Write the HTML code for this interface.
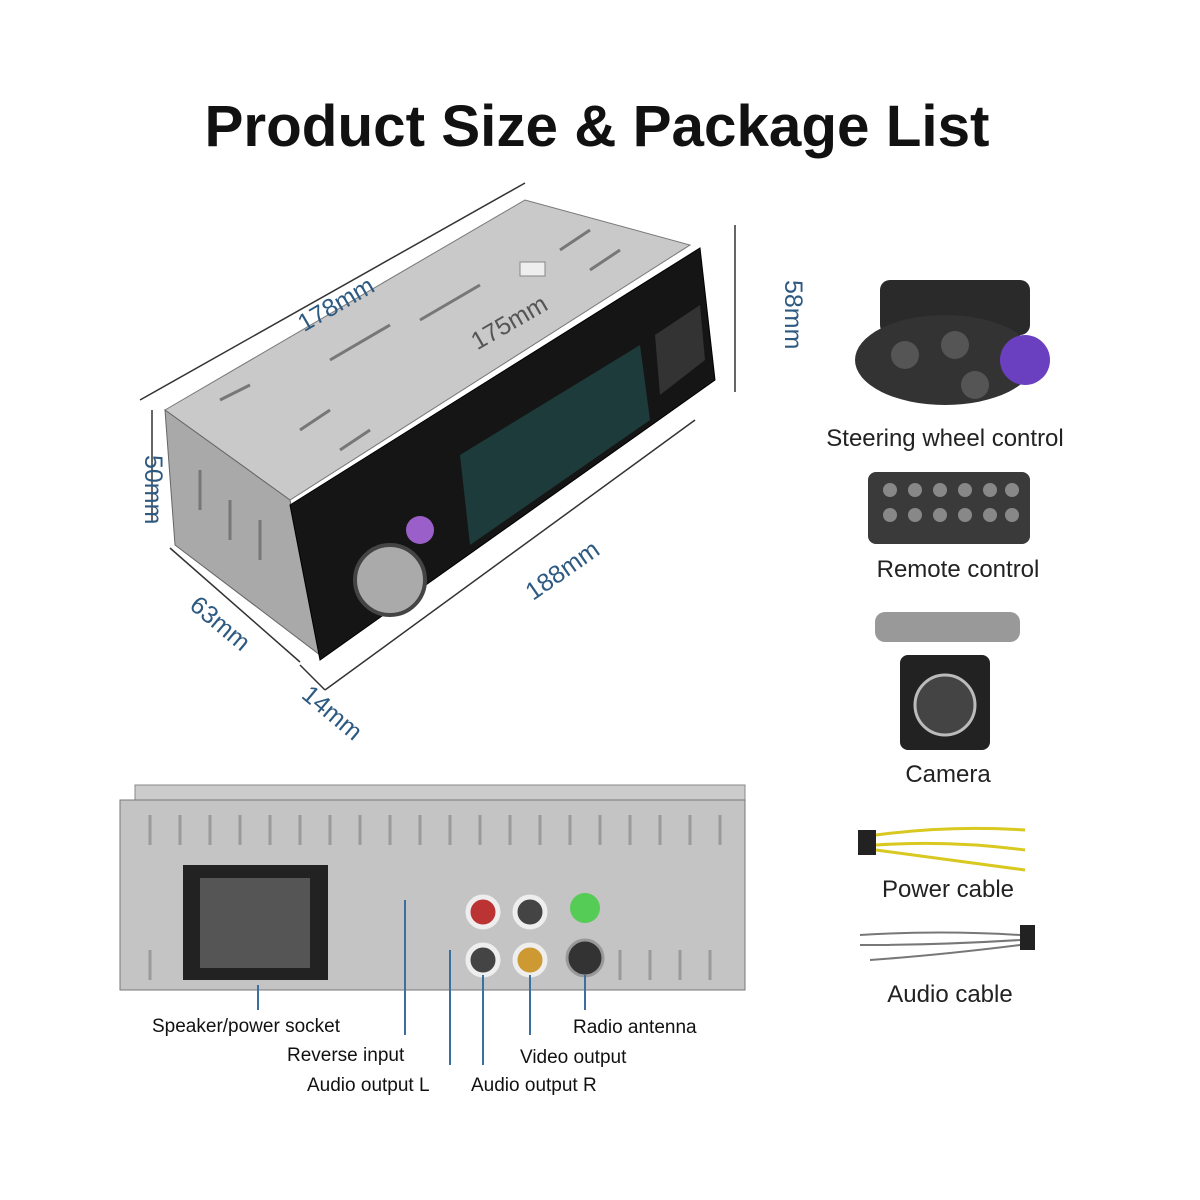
<!DOCTYPE html>
<html><head><meta charset="utf-8"><style>
body{margin:0;width:1200px;height:1200px;background:#fff;overflow:hidden;font-family:"Liberation Sans",sans-serif}
svg{position:absolute;left:0;top:0}
</style></head><body>
<svg width="1200" height="1200" viewBox="0 0 1200 1200">
<text x="597" y="146" text-anchor="middle" font-family="Liberation Sans" font-weight="bold" font-size="58" fill="#111" textLength="785" lengthAdjust="spacingAndGlyphs">Product Size &amp; Package List</text>

<!-- radio body -->
<polygon points="165,410 525,200 690,245 290,500" fill="#c9c9c9" stroke="#777"/>
<polygon points="165,410 290,500 320,655 175,545" fill="#a9a9a9" stroke="#666"/>
<g stroke="#777" fill="none" stroke-width="3">
<path d="M560,250 l30,-20 M590,270 l30,-20 M300,430 l30,-20 M340,450 l30,-20 M220,400 l30,-15 M330,360 l60,-35 M420,320 l60,-35"/>
<path d="M200,470 v40 M230,500 v40 M260,520 v40"/>
</g>
<polygon points="290,505 700,248 715,380 320,660" fill="#151515" stroke="#000"/>
<polygon points="460,455 640,345 650,420 470,545" fill="#1d3b3a"/>
<polygon points="655,335 700,305 705,360 660,395" fill="#333"/>
<circle cx="390" cy="580" r="35" fill="#aaa" stroke="#444" stroke-width="4"/>
<circle cx="420" cy="530" r="14" fill="#9b5fc9"/>
<rect x="520" y="262" width="25" height="14" fill="#eee" stroke="#888"/>

<!-- dimension lines -->
<g stroke="#333" stroke-width="1.5" fill="none">
<line x1="140" y1="400" x2="525" y2="183"/>
<line x1="735" y1="225" x2="735" y2="392"/>
<line x1="152" y1="410" x2="152" y2="522"/>
<line x1="325" y1="690" x2="695" y2="420"/>
<line x1="170" y1="548" x2="300" y2="662"/>
<line x1="300" y1="665" x2="325" y2="690"/>
</g>
<g font-family="Liberation Sans" font-size="25" fill="#2e5a82">
<text x="290" y="320" transform="rotate(-30 320 300)">178mm</text>
<text x="750" y="265" transform="rotate(90 760 290)">58mm</text>
<text x="100" y="440" transform="rotate(90 115 470)">50mm</text>
<text x="520" y="580" transform="rotate(-35 560 570)">188mm</text>
<text x="180" y="630" transform="rotate(40 215 630)">63mm</text>
<text x="290" y="715" transform="rotate(40 320 720)">14mm</text>
<text x="465" y="335" fill="#555" transform="rotate(-30 500 320)">175mm</text>
</g>

<!-- rear panel -->
<rect x="135" y="785" width="610" height="18" fill="#ccc" stroke="#888"/>
<rect x="120" y="800" width="625" height="190" fill="#c4c4c4" stroke="#777"/>
<g stroke="#9a9a9a" stroke-width="3">
<path d="M150,815 v30 M180,815 v30 M210,815 v30 M240,815 v30 M270,815 v30 M300,815 v30 M330,815 v30 M360,815 v30 M390,815 v30 M420,815 v30 M450,815 v30 M480,815 v30 M510,815 v30 M540,815 v30 M570,815 v30 M600,815 v30 M630,815 v30 M660,815 v30 M690,815 v30 M720,815 v30"/>
<path d="M150,950 v30 M620,950 v30 M650,950 v30 M680,950 v30 M710,950 v30"/>
</g>
<rect x="183" y="865" width="145" height="115" fill="#222"/>
<rect x="200" y="878" width="110" height="90" fill="#555"/>
<circle cx="483" cy="912" r="15" fill="#b33" stroke="#eee" stroke-width="5"/>
<circle cx="530" cy="912" r="15" fill="#444" stroke="#eee" stroke-width="5"/>
<circle cx="483" cy="960" r="15" fill="#444" stroke="#eee" stroke-width="5"/>
<circle cx="530" cy="960" r="15" fill="#c93" stroke="#eee" stroke-width="5"/>
<circle cx="585" cy="908" r="15" fill="#5c5"/>
<circle cx="585" cy="958" r="18" fill="#333" stroke="#999" stroke-width="3"/>
<g stroke="#3a6fa0" stroke-width="2" fill="none">
<path d="M258,985 v25 M405,900 v135 M450,950 v115 M483,975 v90 M530,975 v60 M585,975 v35"/>
</g>
<g font-family="Liberation Sans" font-size="19" fill="#111">
<text x="152" y="1032">Speaker/power socket</text>
<text x="287" y="1061">Reverse input</text>
<text x="307" y="1091">Audio output L</text>
<text x="471" y="1091">Audio output R</text>
<text x="520" y="1063">Video output</text>
<text x="573" y="1033">Radio antenna</text>
</g>

<!-- right items -->
<rect x="880" y="280" width="150" height="55" rx="10" fill="#2a2a2a"/>
<ellipse cx="945" cy="360" rx="90" ry="45" fill="#333"/>
<circle cx="1025" cy="360" r="25" fill="#6a3fc0"/>
<circle cx="905" cy="355" r="14" fill="#555"/><circle cx="955" cy="345" r="14" fill="#555"/><circle cx="975" cy="385" r="14" fill="#555"/>
<text x="945" y="446" text-anchor="middle" font-size="24" fill="#222">Steering wheel control</text>
<rect x="868" y="472" width="162" height="72" rx="8" fill="#3a3a3a"/>
<g fill="#888"><circle cx="890" cy="490" r="7"/><circle cx="915" cy="490" r="7"/><circle cx="940" cy="490" r="7"/><circle cx="965" cy="490" r="7"/><circle cx="990" cy="490" r="7"/><circle cx="1012" cy="490" r="7"/><circle cx="890" cy="515" r="7"/><circle cx="915" cy="515" r="7"/><circle cx="940" cy="515" r="7"/><circle cx="965" cy="515" r="7"/><circle cx="990" cy="515" r="7"/><circle cx="1012" cy="515" r="7"/></g>
<text x="958" y="577" text-anchor="middle" font-size="24" fill="#222">Remote control</text>
<rect x="875" y="612" width="145" height="30" rx="10" fill="#999"/>
<rect x="900" y="655" width="90" height="95" rx="8" fill="#222"/>
<circle cx="945" cy="705" r="30" fill="#444" stroke="#bbb" stroke-width="3"/>
<text x="948" y="782" text-anchor="middle" font-size="24" fill="#222">Camera</text>
<rect x="858" y="830" width="18" height="25" fill="#222"/>
<path d="M876,835 Q950,825 1025,830 M876,845 Q950,840 1025,850 M876,850 Q950,860 1025,870" stroke="#d8c820" stroke-width="3" fill="none"/>
<text x="948" y="897" text-anchor="middle" font-size="24" fill="#222">Power cable</text>
<rect x="1020" y="925" width="15" height="25" fill="#222"/>
<path d="M860,935 Q940,930 1020,935 M860,945 Q940,945 1020,940 M870,960 Q940,955 1020,945" stroke="#777" stroke-width="2" fill="none"/>
<text x="950" y="1002" text-anchor="middle" font-size="24" fill="#222">Audio cable</text>
</svg>
</body></html>
